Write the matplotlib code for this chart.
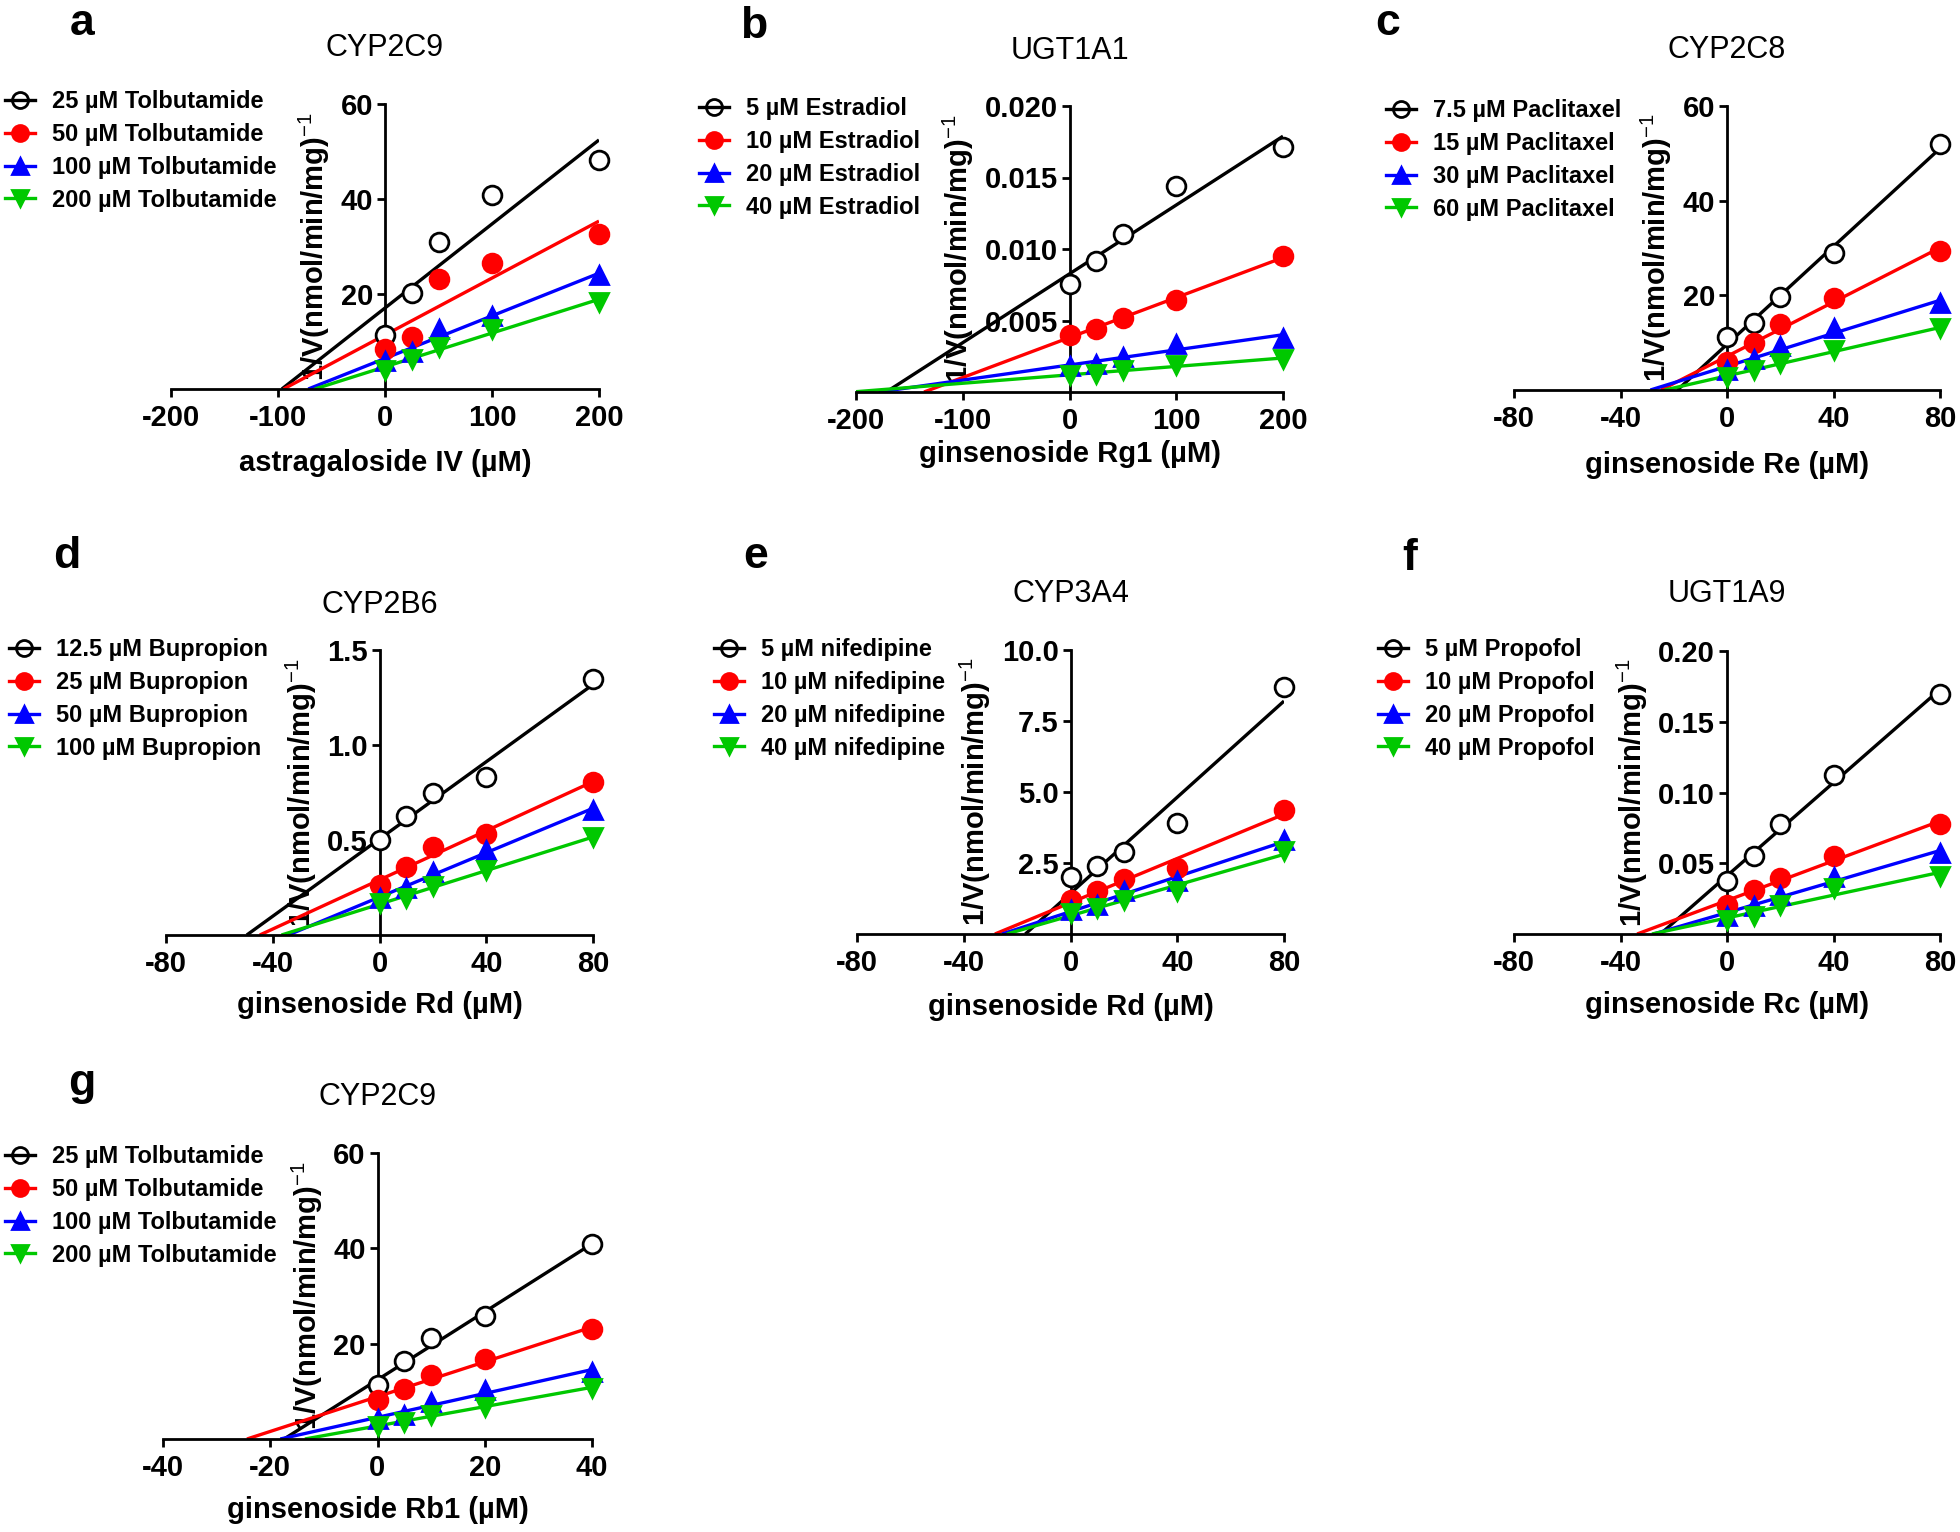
import numpy as np
import matplotlib
matplotlib.use("Agg")
import matplotlib.pyplot as plt
from matplotlib.lines import Line2D

plt.rcParams['font.family'] = ['Liberation Sans', 'DejaVu Sans']
plt.rcParams['mathtext.fontset'] = 'custom'
plt.rcParams['mathtext.rm'] = 'Liberation Sans'
plt.rcParams['mathtext.bf'] = 'Liberation Sans:bold'
plt.rcParams['axes.unicode_minus'] = False

W, H = 1960, 1532

# ---------------- data ----------------
# panel a : CYP2C9 / astragaloside IV
a_x = [0, 25, 50, 100, 200]
a_s1 = [11.3, 20.3, 30.9, 40.8, 48.3]
a_s2 = [8.4, 10.9, 23.2, 26.6, 32.7]
a_s3 = [6.0, 7.7, 12.7, 15.3, 24.1]
a_s4 = [3.9, 6.3, 8.8, 12.7, 18.3]
a_labels = ['25 µM Tolbutamide', '50 µM Tolbutamide', '100 µM Tolbutamide', '200 µM Tolbutamide']

# panel b : UGT1A1 / ginsenoside Rg1
b_x = [0, 25, 50, 100, 200]
b_s1 = [0.00754, 0.00917, 0.01108, 0.01442, 0.01715]
b_s2 = [0.00397, 0.00443, 0.00520, 0.00642, 0.00950]
b_s3 = [0.00180, 0.00198, 0.00245, 0.00338, 0.00380]
b_s4 = [0.00117, 0.00128, 0.00156, 0.00187, 0.00233]
b_labels = ['5 µM Estradiol', '10 µM Estradiol', '20 µM Estradiol', '40 µM Estradiol']

# panel c : CYP2C8 / ginsenoside Re
c_x = [0, 10, 20, 40, 80]
c_s1 = [11.1, 14.2, 19.7, 28.9, 51.9]
c_s2 = [6.0, 9.9, 13.9, 19.4, 29.4]
c_s3 = [4.2, 6.5, 9.2, 13.0, 18.3]
c_s4 = [2.8, 4.2, 5.6, 8.5, 13.0]
c_labels = ['7.5 µM Paclitaxel', '15 µM Paclitaxel', '30 µM Paclitaxel', '60 µM Paclitaxel']

# panel d : CYP2B6 / ginsenoside Rd
d_x = [0, 10, 20, 40, 80]
d_s1 = [0.500, 0.626, 0.746, 0.833, 1.346]
d_s2 = [0.263, 0.356, 0.465, 0.532, 0.804]
d_s3 = [0.193, 0.246, 0.330, 0.447, 0.658]
d_s4 = [0.167, 0.193, 0.258, 0.342, 0.514]
d_labels = ['12.5 µM Bupropion', '25 µM Bupropion', '50 µM Bupropion', '100 µM Bupropion']

# panel e : CYP3A4 / ginsenoside Rd
e_x = [0, 10, 20, 40, 80]
e_s1 = [1.99, 2.38, 2.87, 3.90, 8.71]
e_s2 = [1.21, 1.52, 1.93, 2.32, 4.37]
e_s3 = [0.86, 1.03, 1.50, 1.85, 3.32]
e_s4 = [0.74, 0.91, 1.21, 1.50, 2.91]
e_labels = ['5 µM nifedipine', '10 µM nifedipine', '20 µM nifedipine', '40 µM nifedipine']

# panel f : UGT1A9 / ginsenoside Rc
f_x = [0, 10, 20, 40, 80]
f_s1 = [0.0378, 0.0552, 0.0778, 0.1123, 0.1695]
f_s2 = [0.0207, 0.0308, 0.0395, 0.0548, 0.0778]
f_s3 = [0.0129, 0.0200, 0.0277, 0.0402, 0.0571]
f_s4 = [0.0101, 0.0129, 0.0207, 0.0324, 0.0411]
f_labels = ['5 µM Propofol', '10 µM Propofol', '20 µM Propofol', '40 µM Propofol']

# panel g : CYP2C9 / ginsenoside Rb1
g_x = [0, 5, 10, 20, 40]
g_s1 = [11.3, 16.4, 21.1, 25.9, 40.9]
g_s2 = [8.2, 10.4, 13.4, 16.8, 23.0]
g_s3 = [4.3, 5.0, 7.8, 10.3, 14.1]
g_s4 = [2.7, 3.6, 5.0, 6.8, 10.8]
g_labels = ['25 µM Tolbutamide', '50 µM Tolbutamide', '100 µM Tolbutamide', '200 µM Tolbutamide']

xt200 = [-200, -100, 0, 100, 200]
xt200_lab = ['-200', '-100', '0', '100', '200']
xt80 = [-80, -40, 0, 40, 80]
xt80_lab = ['-80', '-40', '0', '40', '80']
xt40 = [-40, -20, 0, 20, 40]
xt40_lab = ['-40', '-20', '0', '20', '40']

yt60 = [20, 40, 60]
yt60_lab = ['20', '40', '60']
ytb = [0.005, 0.010, 0.015, 0.020]
ytb_lab = ['0.005', '0.010', '0.015', '0.020']
ytd = [0.5, 1.0, 1.5]
ytd_lab = ['0.5', '1.0', '1.5']
yte = [2.5, 5.0, 7.5, 10.0]
yte_lab = ['2.5', '5.0', '7.5', '10.0']
ytf = [0.05, 0.10, 0.15, 0.20]
ytf_lab = ['0.05', '0.10', '0.15', '0.20']

colors = ['#000000', '#FF0000', '#0000FF', '#00C800']
markers = ['o', 'o', '^', 'v']
is_open = [True, False, False, False]

ylabel_txt = r'1/V(nmol/min/mg)$^{-1}$'

panels = [
    dict(letter='a', title='CYP2C9', x=a_x, ys=[a_s1, a_s2, a_s3, a_s4], labels=a_labels,
         xlim=(-200, 200), xt=xt200, xtl=xt200_lab, ylim=(0, 60), yt=yt60, ytl=yt60_lab,
         xlabel='astragaloside IV (µM)', box=(171, 104, 599, 389),
         letter_xy=(82, 35), title_y=56, xlabel_y=471, leg=(20, 100)),
    dict(letter='b', title='UGT1A1', x=b_x, ys=[b_s1, b_s2, b_s3, b_s4], labels=b_labels,
         xlim=(-200, 200), xt=xt200, xtl=xt200_lab, ylim=(0, 0.020), yt=ytb, ytl=ytb_lab,
         xlabel='ginsenoside Rg1 (µM)', box=(856, 106, 1283, 392),
         letter_xy=(754, 38), title_y=59, xlabel_y=462, leg=(714, 107)),
    dict(letter='c', title='CYP2C8', x=c_x, ys=[c_s1, c_s2, c_s3, c_s4], labels=c_labels,
         xlim=(-80, 80), xt=xt80, xtl=xt80_lab, ylim=(0, 60), yt=yt60, ytl=yt60_lab,
         xlabel='ginsenoside Re (µM)', box=(1514, 106, 1940, 390),
         letter_xy=(1388, 35), title_y=58, xlabel_y=473, leg=(1401, 109)),
    dict(letter='d', title='CYP2B6', x=d_x, ys=[d_s1, d_s2, d_s3, d_s4], labels=d_labels,
         xlim=(-80, 80), xt=xt80, xtl=xt80_lab, ylim=(0, 1.5), yt=ytd, ytl=ytd_lab,
         xlabel='ginsenoside Rd (µM)', box=(166, 650, 593, 935),
         letter_xy=(67, 568), title_y=613, xlabel_y=1013, leg=(24, 648)),
    dict(letter='e', title='CYP3A4', x=e_x, ys=[e_s1, e_s2, e_s3, e_s4], labels=e_labels,
         xlim=(-80, 80), xt=xt80, xtl=xt80_lab, ylim=(0, 10), yt=yte, ytl=yte_lab,
         xlabel='ginsenoside Rd (µM)', box=(857, 650, 1284, 934),
         letter_xy=(756, 568), title_y=602, xlabel_y=1015, leg=(729, 648)),
    dict(letter='f', title='UGT1A9', x=f_x, ys=[f_s1, f_s2, f_s3, f_s4], labels=f_labels,
         xlim=(-80, 80), xt=xt80, xtl=xt80_lab, ylim=(0, 0.20), yt=ytf, ytl=ytf_lab,
         xlabel='ginsenoside Rc (µM)', box=(1514, 651, 1940, 934),
         letter_xy=(1410, 570), title_y=602, xlabel_y=1013, leg=(1393, 648)),
    dict(letter='g', title='CYP2C9', x=g_x, ys=[g_s1, g_s2, g_s3, g_s4], labels=g_labels,
         xlim=(-40, 40), xt=xt40, xtl=xt40_lab, ylim=(0, 60), yt=yt60, ytl=yt60_lab,
         xlabel='ginsenoside Rb1 (µM)', box=(163, 1153, 592, 1439),
         letter_xy=(82, 1095), title_y=1105, xlabel_y=1518, leg=(20, 1155)),
]

fig = plt.figure(figsize=(W / 100, H / 100), dpi=100)
fig.patch.set_facecolor('white')

TICK_FS = 21
LEG_FS = 17
fs_px = LEG_FS * 100 / 72

for p in panels:
    x0, y0, x1, y1 = p['box']
    ax = fig.add_axes([x0 / W, 1 - y1 / H, (x1 - x0) / W, (y1 - y0) / H])
    ax.set_xlim(*p['xlim'])
    ax.set_ylim(*p['ylim'])
    ax.patch.set_alpha(0)

    handles = []
    for ys, c, m, op in zip(p['ys'], colors, markers, is_open):
        xs = np.asarray(p['x'], float)
        ya = np.asarray(ys, float)
        k, b = np.polyfit(xs, ya, 1)
        xstart = max(-b / k, p['xlim'][0])
        xl = np.array([xstart, xs.max()])
        ax.plot(xl, k * xl + b, color=c, lw=2.4, zorder=2, solid_capstyle='butt')
        ax.plot(xs, ya, ls='none', marker=m, ms=13.5, mec=c,
                mfc='white' if op else c, mew=2.0, zorder=3, clip_on=False)
        handles.append(Line2D([], [], color=c, lw=2.4, marker=m, ms=11.5, mec=c,
                              mfc='none' if op else c, mew=2.0))

    for s in ('top', 'right'):
        ax.spines[s].set_visible(False)
    ax.spines['left'].set_position(('data', 0))
    ax.spines['bottom'].set_position(('data', 0))
    for s in ('left', 'bottom'):
        ax.spines[s].set_linewidth(2.0)
    ax.set_xticks(p['xt'], labels=p['xtl'], fontsize=TICK_FS, fontweight='bold')
    ax.set_yticks(p['yt'], labels=p['ytl'], fontsize=TICK_FS, fontweight='bold')
    ax.tick_params(axis='both', direction='out', length=5.5, width=2.0)
    ax.tick_params(axis='x', pad=5)
    ax.tick_params(axis='y', pad=3)

    ax.set_ylabel(ylabel_txt, fontsize=21, fontweight='bold', labelpad=6)
    ax.set_xlabel(p['xlabel'], fontsize=21, fontweight='bold')
    ax.xaxis.label.set_va('baseline')
    ax.xaxis.set_label_coords(0.5, (y1 - p['xlabel_y']) / (y1 - y0))

    cx = (x0 + x1) / 2
    fig.text(cx / W, 1 - p['title_y'] / H, p['title'], ha='center', va='baseline', fontsize=22)
    lx, ly = p['letter_xy']
    fig.text(lx / W, 1 - ly / H, p['letter'], ha='center', va='baseline',
             fontsize=32, fontweight='bold')

    mx, my = p['leg']
    ax.legend(handles, p['labels'], loc='upper left',
              bbox_to_anchor=((mx - 15) / W, 1 - (my - 10) / H),
              bbox_transform=fig.transFigure, frameon=False, borderpad=0,
              borderaxespad=0, handlelength=30 / fs_px, handletextpad=17 / fs_px,
              labelspacing=0.42, prop={'size': LEG_FS, 'weight': 'bold'}, numpoints=1)

fig.savefig('out.png', dpi=100, facecolor='white')
